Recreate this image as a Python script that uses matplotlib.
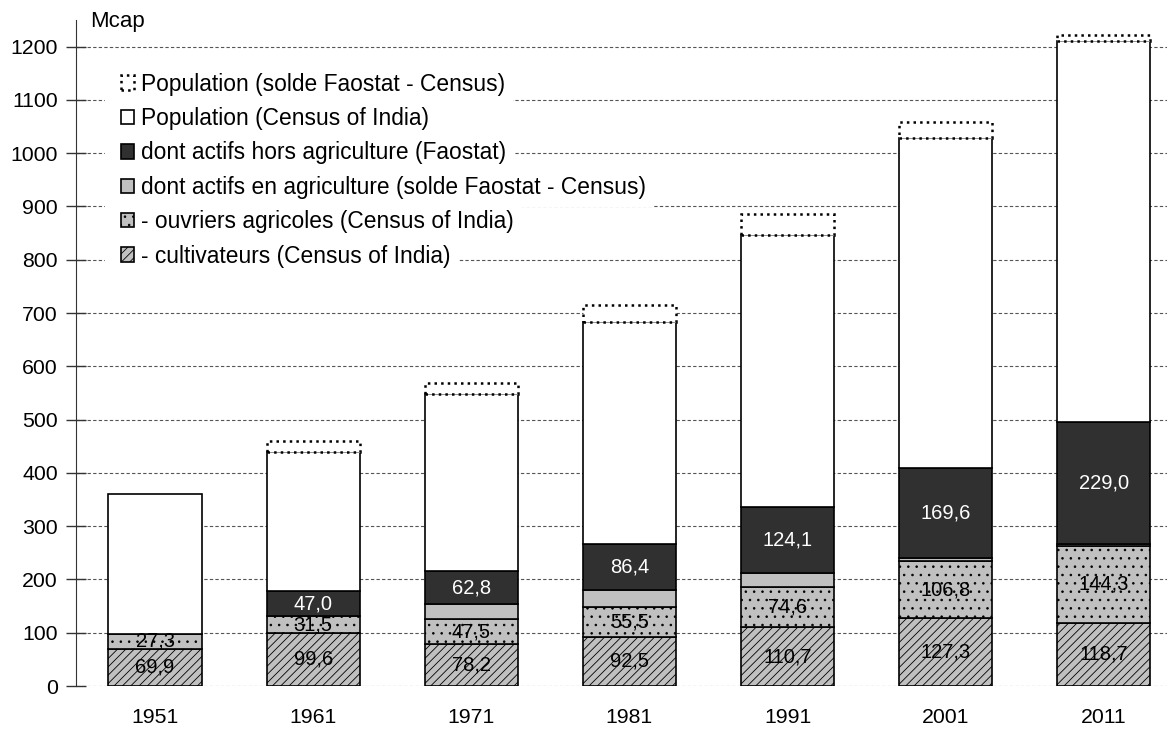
import numpy as np
import matplotlib.pyplot as plt
from matplotlib.patches import Rectangle
from matplotlib.transforms import IdentityTransform

plt.rcParams['font.family'] = ['Liberation Sans', 'DejaVu Sans']
plt.rcParams['hatch.linewidth'] = 0.6

# data (Mcap)
years = ['1951', '1961', '1971', '1981', '1991', '2001', '2011']
cultivateurs = [69.9, 99.6, 78.2, 92.5, 110.7, 127.3, 118.7]
ouvriers = [27.3, 31.5, 47.5, 55.5, 74.6, 106.8, 144.3]
agri_solde = [0, 0, 27.6, 32.5, 27.4, 5.5, 3.0]
hors_agri = [0, 47.0, 62.8, 86.4, 124.1, 169.6, 229.0]
pop_census = [361.1, 439.2, 548.2, 683.3, 846.4, 1028.7, 1210.9]
pop_faostat = [361.1, 460.0, 569.0, 716.0, 886.0, 1058.0, 1221.0]

labels = ['- cultivateurs (Census of India)',
          '- ouvriers agricoles (Census of India)',
          'dont actifs en agriculture (solde Faostat - Census)',
          'dont actifs hors agriculture (Faostat)',
          'Population (Census of India)',
          'Population (solde Faostat - Census)']

x = np.arange(len(years))
cult = np.array(cultivateurs)
ouv = np.array(ouvriers)
sol = np.array(agri_solde)
hors = np.array(hors_agri)
reste = np.array(pop_census) - (cult + ouv + sol + hors)
solde_pop = np.array(pop_faostat) - np.array(pop_census)

fig = plt.figure(figsize=(11.67, 7.29), dpi=100)
ax = fig.add_axes([76 / 1167, 43 / 729, 1091 / 1167, 666 / 729])

w = 0.59
lw = 1.2
b1 = ax.bar(x, cult, w, color='#c0c0c0', edgecolor='black', hatch='////', lw=lw, zorder=3)
bottom = cult.copy()
b2 = ax.bar(x, ouv, w, bottom=bottom, color='#c0c0c0', edgecolor='black', hatch='..', lw=lw, zorder=3)
bottom += ouv
m = sol > 0
b3 = ax.bar(x[m], sol[m], w, bottom=bottom[m], color='#c0c0c0', edgecolor='black', lw=lw, zorder=3)
bottom += sol
m = hors > 0
b4 = ax.bar(x[m], hors[m], w, bottom=bottom[m], color='#303030', edgecolor='black', lw=lw, zorder=3)
bottom += hors
b5 = ax.bar(x, reste, w, bottom=bottom, color='white', edgecolor='black', lw=lw, zorder=3)
bottom += reste
m = solde_pop > 0
b6 = ax.bar(x[m], solde_pop[m], w, bottom=bottom[m], color='white', edgecolor='black', lw=1.8,
            linestyle=':', zorder=4)

# value labels
def fmt(v):
    return f'{v:.1f}'.replace('.', ',')

VS = 14.5
for i in range(len(years)):
    ax.text(x[i], cult[i] / 2, fmt(cult[i]), ha='center', va='center', fontsize=VS, zorder=5)
    ax.text(x[i], cult[i] + ouv[i] / 2, fmt(ouv[i]), ha='center', va='center', fontsize=VS, zorder=5)
    if hors[i] > 0:
        ax.text(x[i], cult[i] + ouv[i] + sol[i] + hors[i] / 2, fmt(hors[i]), ha='center',
                va='center', fontsize=VS, color='white', zorder=5)

ax.set_xlim(-0.5, 6.4)
ax.set_ylim(0, 1250)
ax.set_yticks(np.arange(0, 1201, 100))
ax.set_xticks(x)
ax.set_xticklabels(years)
ax.tick_params(axis='x', length=0, pad=16, labelsize=15.3)
ax.tick_params(axis='y', direction='inout', length=14, width=1, labelsize=15.3, pad=6, color='#333333')
ax.yaxis.grid(True, linestyle=(0, (3, 2)), color='#555555', lw=0.8, zorder=0)
ax.set_axisbelow(True)
for s in ['top', 'right', 'bottom']:
    ax.spines[s].set_visible(False)
ax.spines['left'].set_color('#333333')

fig.text(90 / 1167, 1 - 22 / 729, 'Mcap', fontsize=16, va='center', ha='left')

handles = [b6, b5, b4, b3, b2, b1]
leg = ax.legend(handles, labels[::-1], loc='upper left', bbox_to_anchor=(0.041, 0.921),
                frameon=False, fontsize=16.4, handlelength=0.6, handleheight=0.6,
                handletextpad=0.3, labelspacing=0.5, borderaxespad=0, borderpad=0)
leg.set_zorder(6)

# white strip behind each legend row hides the gridlines, as in the original
fig.canvas.draw()
for t in leg.get_texts():
    bb = t.get_window_extent()
    ax.add_patch(Rectangle((105, bb.y0 - 8), bb.x1 + 8 - 105, bb.height + 16,
                           transform=IdentityTransform(), facecolor='white',
                           edgecolor='none', zorder=1, clip_on=False))

fig.savefig('out.png', dpi=100)
